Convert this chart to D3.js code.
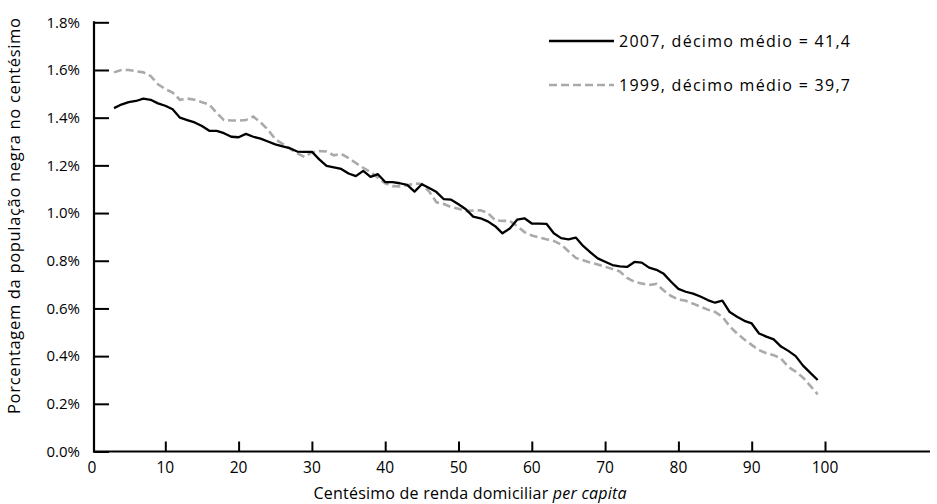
<!DOCTYPE html>
<html>
<head>
<meta charset="utf-8">
<script src="https://cdn.jsdelivr.net/npm/d3@7"></script>
<style>
  html, body { margin: 0; padding: 0; background: #fff; }
  svg { display: block; font-family: "Open Sans", Lato, sans-serif; }
</style>
</head>
<body>
<svg id="chart" width="937" height="504"></svg>
<script>
// Percentiles (centésimos) 3..99
const percentiles = d3.range(3, 100);

// 2007 series (% of black population in each percentile)
const values2007 = [
  1.44, 1.455, 1.465, 1.47, 1.48, 1.475, 1.46, 1.45, 1.435, 1.40,
  1.39, 1.38, 1.365, 1.345, 1.345, 1.335, 1.32, 1.318, 1.332, 1.32,
  1.312, 1.30, 1.288, 1.28, 1.272, 1.258, 1.257, 1.257, 1.225, 1.198,
  1.192, 1.185, 1.166, 1.155, 1.177, 1.152, 1.163, 1.13, 1.13, 1.125,
  1.118, 1.09, 1.121, 1.105, 1.088, 1.058, 1.056, 1.037, 1.016, 0.985,
  0.978, 0.965, 0.945, 0.915, 0.935, 0.972, 0.978, 0.956, 0.956, 0.955,
  0.915, 0.895, 0.89, 0.897, 0.862, 0.835, 0.81, 0.796, 0.782, 0.776,
  0.774, 0.795, 0.792, 0.771, 0.762, 0.745, 0.712, 0.682, 0.67, 0.662,
  0.65, 0.635, 0.624, 0.633, 0.585, 0.565, 0.548, 0.537, 0.495, 0.482,
  0.47, 0.44, 0.422, 0.40, 0.36, 0.33, 0.30
];

// 1999 series
const values1999 = [
  1.59, 1.60, 1.60, 1.595, 1.59, 1.575, 1.54, 1.52, 1.505, 1.475,
  1.48, 1.475, 1.465, 1.455, 1.42, 1.39, 1.388, 1.388, 1.39, 1.405,
  1.38, 1.35, 1.31, 1.29, 1.27, 1.25, 1.235, 1.255, 1.26, 1.258,
  1.242, 1.248, 1.23, 1.21, 1.19, 1.172, 1.148, 1.125, 1.113, 1.112,
  1.116, 1.124, 1.122, 1.09, 1.045, 1.038, 1.025, 1.018, 1.008, 1.01,
  1.012, 1.0, 0.97, 0.967, 0.967, 0.945, 0.92, 0.906, 0.898, 0.89,
  0.883, 0.868, 0.84, 0.812, 0.802, 0.792, 0.784, 0.775, 0.765, 0.755,
  0.728, 0.712, 0.705, 0.698, 0.703, 0.675, 0.652, 0.638, 0.632, 0.62,
  0.607, 0.595, 0.585, 0.565, 0.525, 0.495, 0.47, 0.447, 0.425, 0.412,
  0.404, 0.39, 0.355, 0.335, 0.31, 0.275, 0.24
];

const xTicks = [0, 10, 20, 30, 40, 50, 60, 70, 80, 90, 100];
const yTicks = [0, 0.2, 0.4, 0.6, 0.8, 1.0, 1.2, 1.4, 1.6, 1.8];
const seriesNames = ["2007, décimo médio = 41,4", "1999, décimo médio = 39,7"];
const yTitle = "Porcentagem da população negra no centésimo";
const xTitleMain = "Centésimo de renda domiciliar ";
const xTitleItalic = "per capita";

const svg = d3.select("#chart");
const x = d3.scaleLinear().domain([0, 100]).range([92, 825]);
const xEnd = 930;
const y = d3.scaleLinear().domain([0, 1.8]).range([451.5, 22.3]);
const axisX = 94;

// Y axis
const yAxis = d3.axisRight(y).tickValues(yTicks).tickSize(15).tickFormat("");
const gy = svg.append("g").attr("transform", `translate(${axisX},0)`).call(yAxis);
gy.select(".domain").remove();
gy.selectAll(".tick line").attr("stroke", "#000").attr("stroke-width", 2);
svg.append("line").attr("x1", axisX).attr("x2", axisX)
  .attr("y1", y(1.8) - 1).attr("y2", y(0) + 1)
  .attr("stroke", "#000").attr("stroke-width", 2.2);
// Y tick labels
svg.append("g").selectAll("text").data(yTicks).join("text")
  .attr("x", 80).attr("y", d => y(d)).attr("dy", "0.35em")
  .attr("text-anchor", "end").attr("font-size", 15).attr("fill", "#000")
  .text(d => d.toFixed(1) + "%");

// X axis
const xAxis = d3.axisTop(x).tickValues(xTicks.filter(d => d > 0)).tickSize(10).tickFormat("");
const gx = svg.append("g").attr("transform", `translate(0,${y(0)})`).call(xAxis);
gx.select(".domain").remove();
gx.selectAll(".tick line").attr("stroke", "#000").attr("stroke-width", 2);
svg.append("line").attr("x1", axisX - 1).attr("x2", xEnd)
  .attr("y1", y(0)).attr("y2", y(0))
  .attr("stroke", "#000").attr("stroke-width", 2.2);
svg.append("g").selectAll("text").data(xTicks).join("text")
  .attr("x", d => x(d)).attr("y", 473)
  .attr("text-anchor", "middle").attr("font-size", 15.5).attr("fill", "#000")
  .text(d => d);

// Titles
svg.append("text")
  .attr("transform", "translate(20,216) rotate(-90)")
  .attr("text-anchor", "middle").attr("font-size", 16.5).attr("fill", "#000")
  .attr("textLength", 396).attr("lengthAdjust", "spacing")
  .text(yTitle);
const xt = svg.append("text").attr("x", 470).attr("y", 499)
  .attr("text-anchor", "middle").attr("font-size", 16).attr("fill", "#000")
  .attr("textLength", 313).attr("lengthAdjust", "spacing");
xt.append("tspan").text(xTitleMain);
xt.append("tspan").attr("font-style", "italic").text(xTitleItalic);

// Lines
const line = d3.line().x((d, i) => x(percentiles[i])).y(d => y(d)).curve(d3.curveLinear);
svg.append("path").datum(values1999)
  .attr("fill", "none").attr("stroke", "#aaaaaa").attr("stroke-width", 2.6)
  .attr("stroke-dasharray", "8,4").attr("d", line);
svg.append("path").datum(values2007)
  .attr("fill", "none").attr("stroke", "#000").attr("stroke-width", 2.3)
  .attr("stroke-linejoin", "round").attr("d", line);

// Legend
const legend = svg.append("g");
const legendRows = [
  {name: seriesNames[0], color: "#000", dash: null, w: 2.3, ly: 41},
  {name: seriesNames[1], color: "#aaaaaa", dash: "8,4", w: 2.6, ly: 85}
];
legendRows.forEach(r => {
  legend.append("line").attr("x1", 549).attr("x2", 614).attr("y1", r.ly).attr("y2", r.ly)
    .attr("stroke", r.color).attr("stroke-width", r.w).attr("stroke-dasharray", r.dash);
  legend.append("text").attr("x", 619).attr("y", r.ly).attr("dy", "0.35em")
    .attr("font-size", 16).attr("fill", "#000")
    .attr("textLength", 231).attr("lengthAdjust", "spacing").text(r.name);
});
</script>
</body>
</html>
